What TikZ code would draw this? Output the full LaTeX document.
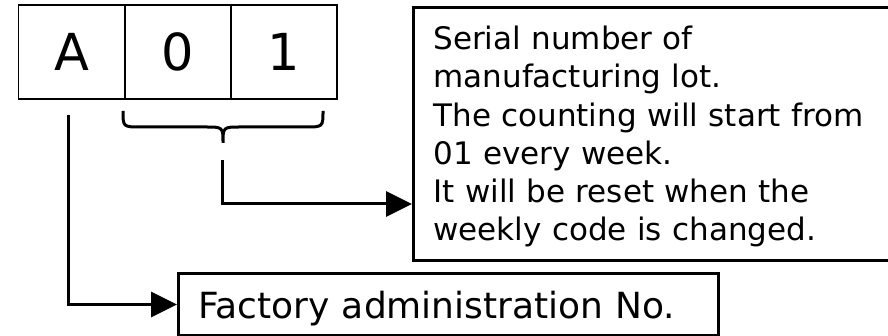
\documentclass[tikz,border=0pt]{standalone}
\usepackage{fontspec}
\setmainfont{DejaVu Sans}
\usetikzlibrary{arrows.meta,calc}
\begin{document}
\begin{tikzpicture}[x=1pt,y=-1pt,
  cell/.style={draw, line width=1.3pt, minimum width=106pt, minimum height=94pt, inner sep=0pt, font=\fontsize{51}{60}\selectfont},
  infobox/.style={draw, line width=3pt, anchor=north west, inner sep=0pt, align=left},
  thick line/.style={line width=3pt},
  arr/.style={line width=3pt, -{Triangle[length=26pt,width=25pt]}}
]
\useasboundingbox (0,0) rectangle (888,336);
\node[cell] (A) at (71.5,52) {A};
\node[cell] (zero) at (178,52) {0};
\node[cell] (one) at (284,52) {1};
\node[infobox, font=\fontsize{31}{38.2}\selectfont, minimum width=500pt, minimum height=253pt, text width=470pt, inner xsep=20pt,
  text height=0pt, text depth=168.4pt] (serial) at (412,6)
  {Serial number of\\manufacturing lot.\\The counting will start from\\01 every week.\\It will be reset when the\\weekly code is changed.};
\node[infobox, font=\fontsize{36}{43}\selectfont, minimum width=536pt, minimum height=62pt, text width=500pt, inner xsep=20pt,
  text height=27.4pt, text depth=0pt] (factory) at (177,272)
  {Factory administration No.};
% brace
\draw[thick line] (123,111) .. controls (123,127) .. (141,127) -- (205,127) .. controls (223,127) .. (223,143)
  .. controls (223,127) .. (241,127) -- (305,127) .. controls (323,127) .. (323,111);
\coordinate (s1) at (222,160);
\coordinate (t1) at (412,204);
\draw[arr] (s1) |- (t1);
\coordinate (s2) at (68,115);
\draw[arr] (s2) |- (factory.west);
\end{tikzpicture}
\end{document}
